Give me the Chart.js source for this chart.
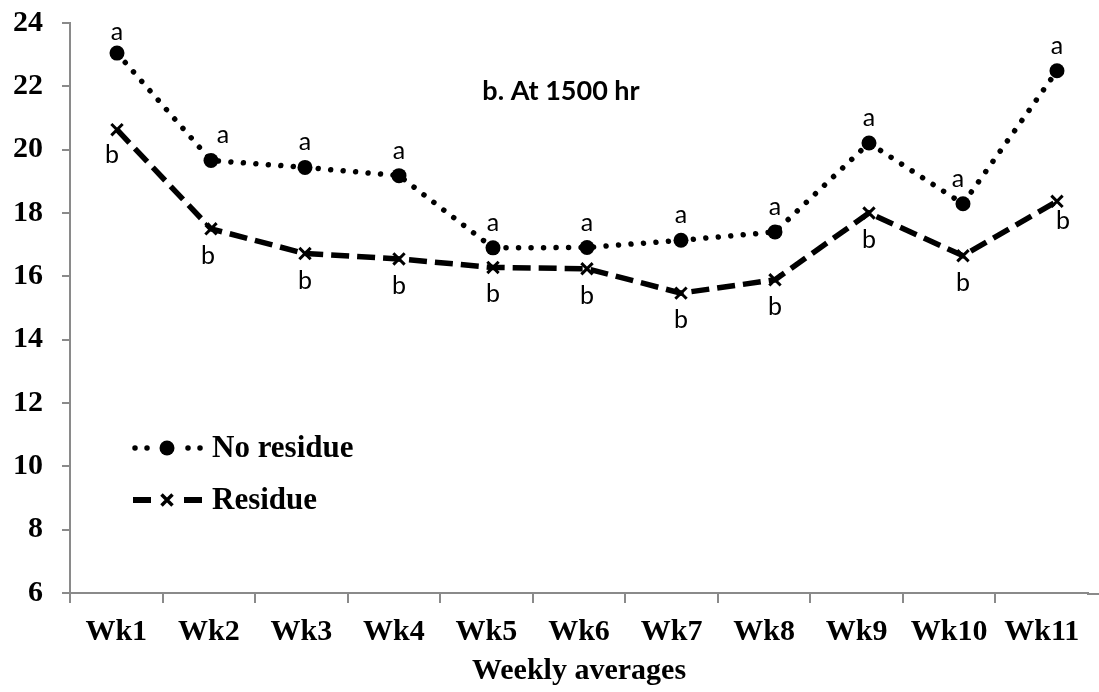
<!DOCTYPE html>
<html>
<head>
<meta charset="utf-8">
<script src="https://cdn.jsdelivr.net/npm/chart.js@4/dist/chart.umd.min.js"></script>
<style>
  html, body { margin: 0; padding: 0; background: #ffffff; }
  #wrap { width: 1099px; height: 692px; position: relative; }
</style>
</head>
<body>
<div id="wrap"><canvas id="chart"></canvas></div>
<script>
// Weekly average temperatures at 1500 hr
const weeks = ['Wk1', 'Wk2', 'Wk3', 'Wk4', 'Wk5', 'Wk6', 'Wk7', 'Wk8', 'Wk9', 'Wk10', 'Wk11'];
const noResidue = [23.05, 19.66, 19.44, 19.18, 16.90, 16.91, 17.14, 17.40, 20.21, 18.29, 22.49];
const residue   = [20.63, 17.50, 16.72, 16.55, 16.28, 16.24, 15.47, 15.89, 18.00, 16.65, 18.37];
// Mean separation letters for each week
const noResidueLetters = ['a', 'a', 'a', 'a', 'a', 'a', 'a', 'a', 'a', 'a', 'a'];
const residueLetters   = ['b', 'b', 'b', 'b', 'b', 'b', 'b', 'b', 'b', 'b', 'b'];
const yMin = 6, yMax = 24, yStep = 2;

const SERIF = '"Liberation Serif", "Times New Roman", serif';
const SANS = 'Lato, "Open Sans", sans-serif';
const AXIS_GREY = '#8a8a8a';

// series are placed by week index on a hidden numeric axis
const toPoints = values => values.map((v, i) => ({ x: i, y: v }));

// Letters above (no residue) and below (residue) each point
const letterPlugin = {
  id: 'letters',
  afterDatasetsDraw(chart) {
    const ctx = chart.ctx;
    const sets = [
      { idx: 0, letters: noResidueLetters, dy: -17, nudge: { 1: [12, 0], 9: [-5, 0], 0: [0, 4] } },
      { idx: 1, letters: residueLetters, dy: 35, nudge: { 0: [-5, -2], 1: [-3, 0], 10: [6, -7] } }
    ];
    ctx.save();
    ctx.font = '25px ' + SANS;
    ctx.fillStyle = '#000';
    ctx.textAlign = 'center';
    ctx.textBaseline = 'alphabetic';
    sets.forEach(s => {
      const meta = chart.getDatasetMeta(s.idx);
      meta.data.forEach((pt, i) => {
        const [dx, ddy] = s.nudge[i] || [0, 0];
        ctx.fillText(s.letters[i], pt.x + dx, pt.y + s.dy + ddy);
      });
    });
    ctx.restore();
  }
};

// In-plot legend, panel title and the run-out of the category axis line
const legendPlugin = {
  id: 'insetLegend',
  afterDraw(chart) {
    const ctx = chart.ctx;
    const area = chart.chartArea;
    ctx.save();

    ctx.strokeStyle = AXIS_GREY;
    ctx.lineWidth = 2;
    ctx.beginPath();
    ctx.moveTo(area.right - 1, area.bottom + 1);
    ctx.lineTo(chart.width, area.bottom + 1);
    ctx.stroke();

    ctx.strokeStyle = '#000';
    ctx.fillStyle = '#000';

    // dotted sample with circle marker
    const y1 = 448;
    ctx.lineWidth = 5.5;
    ctx.lineCap = 'round';
    ctx.setLineDash([0.01, 12]);
    [[135, 147], [188, 200]].forEach(([a, b]) => {
      ctx.beginPath(); ctx.moveTo(a, y1); ctx.lineTo(b + 0.5, y1); ctx.stroke();
    });
    ctx.setLineDash([]);
    ctx.beginPath(); ctx.arc(167, y1, 7.5, 0, Math.PI * 2); ctx.fill();

    // dashed sample with cross marker
    const y2 = 500;
    ctx.lineCap = 'butt';
    ctx.lineWidth = 6;
    [[133, 151], [184, 202]].forEach(([a, b]) => {
      ctx.beginPath(); ctx.moveTo(a, y2); ctx.lineTo(b, y2); ctx.stroke();
    });
    ctx.lineWidth = 3.5;
    const r = 5.5;
    ctx.beginPath();
    ctx.moveTo(167 - r, y2 - r); ctx.lineTo(167 + r, y2 + r);
    ctx.moveTo(167 - r, y2 + r); ctx.lineTo(167 + r, y2 - r);
    ctx.stroke();

    ctx.font = 'bold 31px ' + SERIF;
    ctx.textAlign = 'left';
    ctx.textBaseline = 'alphabetic';
    ctx.fillText('No residue', 212, 457);
    ctx.fillText('Residue', 212, 509);

    ctx.font = 'bold 27px ' + SANS;
    ctx.textAlign = 'center';
    ctx.fillText('b. At 1500 hr', 561, 100);
    ctx.restore();
  }
};

new Chart(document.getElementById('chart'), {
  type: 'line',
  data: {
    labels: weeks,
    datasets: [
      {
        label: 'No residue',
        data: toPoints(noResidue),
        xAxisID: 'xData',
        borderColor: '#000',
        backgroundColor: '#000',
        borderWidth: 5.5,
        borderDash: [0.01, 12.5],
        borderCapStyle: 'round',
        pointStyle: 'circle',
        pointRadius: 7.5,
        pointBorderWidth: 0,
        pointBackgroundColor: '#000',
        tension: 0
      },
      {
        label: 'Residue',
        data: toPoints(residue),
        xAxisID: 'xData',
        borderColor: '#000',
        backgroundColor: '#000',
        borderWidth: 5.5,
        borderDash: [18, 8],
        borderCapStyle: 'butt',
        pointStyle: 'crossRot',
        pointRadius: 8,
        pointBorderWidth: 3,
        pointBorderColor: '#000',
        tension: 0
      }
    ]
  },
  options: {
    responsive: true,
    maintainAspectRatio: false,
    animation: false,
    events: [],
    layout: { padding: { left: 0, top: 23, right: 4, bottom: 0 } },
    plugins: {
      legend: { display: false },
      title: { display: false },
      tooltip: { enabled: false }
    },
    scales: {
      x: {
        type: 'category',
        offset: true,
        grid: {
          display: true,
          offset: true,
          drawOnChartArea: false,
          drawTicks: true,
          tickLength: 10,
          color: AXIS_GREY,
          tickColor: c => (c.type === 'tick' ? AXIS_GREY : 'rgba(0,0,0,0)'),
          lineWidth: 2
        },
        border: { display: true, color: AXIS_GREY, width: 2 },
        ticks: {
          color: '#000',
          font: { family: SERIF, size: 30, weight: 'bold' },
          padding: 11,
          maxRotation: 0,
          autoSkip: false
        },
        title: {
          display: true,
          text: 'Weekly averages',
          color: '#000',
          font: { family: SERIF, size: 30, weight: 'bold' },
          padding: { top: 0, bottom: 3 }
        },
        afterFit(scale) {
          scale.height = 99;
          scale.paddingLeft = 0;
          scale.paddingRight = 0;
        }
      },
      xData: {
        type: 'linear',
        position: 'bottom',
        display: false,
        min: -0.5,
        max: 10.33
      },
      y: {
        min: yMin,
        max: yMax,
        grid: {
          display: true,
          drawOnChartArea: false,
          drawTicks: true,
          tickLength: 8,
          color: AXIS_GREY,
          lineWidth: 2
        },
        border: { display: true, color: AXIS_GREY, width: 2 },
        ticks: {
          stepSize: yStep,
          color: '#000',
          font: { family: SERIF, size: 30, weight: 'bold' },
          padding: 19
        },
        afterFit(scale) {
          scale.width = 70;
          scale.paddingTop = 0;
          scale.paddingBottom = 0;
        }
      }
    }
  },
  plugins: [letterPlugin, legendPlugin]
});
</script>
</body>
</html>
